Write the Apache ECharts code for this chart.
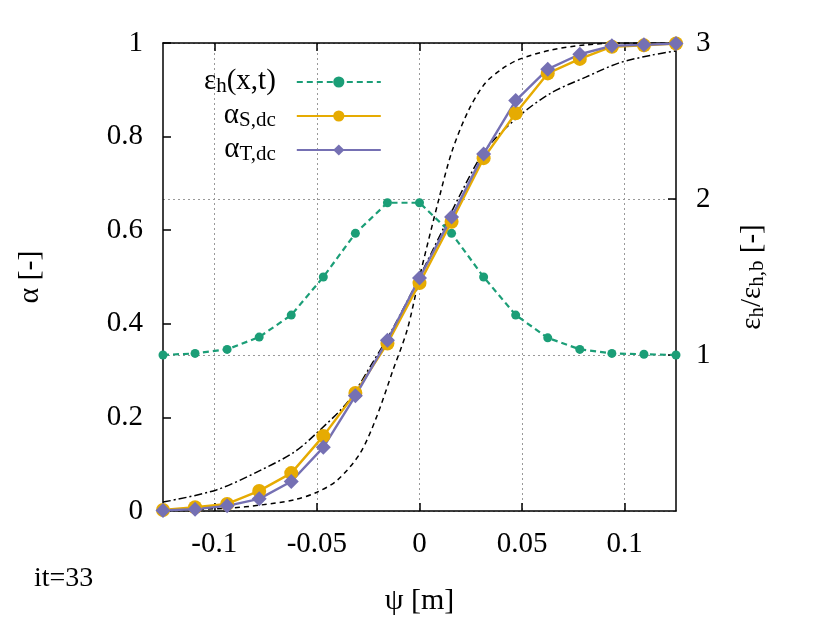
<!DOCTYPE html>
<html>
<head>
<meta charset="utf-8">
<script src="https://cdn.jsdelivr.net/npm/echarts@6/dist/echarts.min.js"></script>
<style>html,body{margin:0;padding:0;background:#fff}#c{width:830px;height:623px}</style>
</head>
<body>
<div id="c"></div>
<script>
// ---- data ----
const psi = [-0.125, -0.109375, -0.09375, -0.078125, -0.0625, -0.046875, -0.03125, -0.015625, 0,
             0.015625, 0.03125, 0.046875, 0.0625, 0.078125, 0.09375, 0.109375, 0.125];
const epsRatio = [1.0, 1.01, 1.036, 1.115, 1.256, 1.50, 1.78, 1.976, 1.976, 1.78, 1.50, 1.256, 1.11, 1.036, 1.01, 1.005, 1.0];
const alphaS = [0.002, 0.008, 0.015, 0.043, 0.081, 0.160, 0.252, 0.358, 0.487, 0.618, 0.754, 0.850, 0.935, 0.966, 0.992, 0.995, 0.999];
const alphaT = [0.001, 0.004, 0.011, 0.026, 0.063, 0.136, 0.246, 0.365, 0.498, 0.628, 0.763, 0.877, 0.944, 0.976, 0.994, 0.996, 0.999];
const dashX = [-0.125, -0.093, -0.077, -0.061, -0.050, -0.040, -0.029, -0.021, -0.013, -0.006, 0, 0.0097, 0.016, 0.024, 0.032, 0.040, 0.048, 0.064, 0.081, 0.097, 0.125];
const dashY = [0.002, 0.006, 0.013, 0.024, 0.040, 0.066, 0.123, 0.20, 0.30, 0.387, 0.5, 0.671, 0.771, 0.857, 0.914, 0.944, 0.964, 0.985, 0.996, 1.0, 1.0];
const dotX = [-0.125, -0.099, -0.077, -0.061, -0.050, -0.035, -0.023, -0.013, 0, 0.021, 0.032, 0.048, 0.064, 0.081, 0.097, 0.113, 0.125];
const dotY = [0.019, 0.045, 0.088, 0.126, 0.167, 0.233, 0.316, 0.39, 0.5, 0.686, 0.771, 0.842, 0.893, 0.927, 0.957, 0.974, 0.983];
const xTicks = [-0.1, -0.05, 0, 0.05, 0.1];
const names = ['eps', 'aS', 'aT'];

const FONT = '"Liberation Serif", "Times New Roman", serif';
const zip = (a, b) => a.map((v, i) => [v, b[i]]);
const legendText = {
  eps: '{m|ε}{s|h}{m|(x,t)}',
  aS: '{m|α}{s|S,dc}',
  aT: '{m|α}{s|T,dc}'
};
const rich = {
  m: {fontFamily: FONT, fontSize: 29, lineHeight: 30, verticalAlign: 'top', color: '#000'},
  s: {fontFamily: FONT, fontSize: 21, lineHeight: 20, padding: [20, 0, 0, 0], verticalAlign: 'bottom', color: '#000'}
};

const chart = echarts.init(document.getElementById('c'), null, {renderer: 'canvas'});
chart.setOption({
  animation: false,
  backgroundColor: '#fff',
  grid: {left: 163, right: 154, top: 43, bottom: 112, containLabel: false},
  legend: {
    data: names,
    orient: 'vertical',
    left: 204, top: 56,
    align: 'right',
    padding: 0,
    itemWidth: 84, itemHeight: 14, itemGap: -7,
    formatter: n => legendText[n],
    textStyle: {rich: rich, fontFamily: FONT, fontSize: 29, padding: [0, 16, 0, 0]}
  },
  xAxis: [{
    type: 'value', min: -0.125, max: 0.125, position: 'bottom',
    name: 'ψ [m]', nameLocation: 'middle', nameGap: 75,
    nameTextStyle: {fontFamily: FONT, fontSize: 30, color: '#000'},
    axisLine: {show: true, onZero: false, lineStyle: {color: '#000', width: 1.5}},
    axisTick: {show: true, inside: true, length: 8, customValues: xTicks, lineStyle: {color: '#000', width: 1.5}},
    axisLabel: {customValues: xTicks, margin: 19, fontFamily: FONT, fontSize: 29, color: '#000'},
    splitLine: {show: true, lineStyle: {color: '#999', type: [2, 3], width: 1}}
  }, {
    type: 'value', min: -0.125, max: 0.125, position: 'top',
    axisLine: {show: true, onZero: false, lineStyle: {color: '#000', width: 1.5}},
    axisTick: {show: true, inside: true, length: 8, customValues: xTicks, lineStyle: {color: '#000', width: 1.5}},
    axisLabel: {show: false},
    splitLine: {show: false}
  }],
  yAxis: [{
    type: 'value', min: 0, max: 1, interval: 0.2, position: 'left',
    name: 'α [-]', nameLocation: 'middle', nameGap: 118, nameRotate: 90,
    nameTextStyle: {fontFamily: FONT, fontSize: 30, color: '#000'},
    axisLine: {show: true, onZero: false, lineStyle: {color: '#000', width: 1.5}},
    axisTick: {show: true, inside: true, length: 8, lineStyle: {color: '#000', width: 1.5}},
    axisLabel: {margin: 20, fontFamily: FONT, fontSize: 29, color: '#000'},
    splitLine: {show: false}
  }, {
    type: 'value', min: 0, max: 3, interval: 1, position: 'right',
    name: '{m|ε}{s|h}{m|/ε}{s|h,b}{m| [-]}', nameLocation: 'middle', nameGap: 62, nameRotate: 90,
    nameTextStyle: {fontFamily: FONT, fontSize: 29, color: '#000', rich: rich},
    axisLine: {show: true, onZero: false, lineStyle: {color: '#000', width: 1.5}},
    axisTick: {show: true, inside: true, length: 8, lineStyle: {color: '#000', width: 1.5}},
    axisLabel: {margin: 20, fontFamily: FONT, fontSize: 29, color: '#000', showMinLabel: false},
    splitLine: {show: true, lineStyle: {color: '#999', type: [2, 3], width: 1}}
  }],
  series: [{
    name: 'dashed', type: 'line', data: zip(dashX, dashY), smooth: 0.3,
    symbol: 'none', lineStyle: {color: '#000', width: 1.5, type: [5, 4]}
  }, {
    name: 'dashdot', type: 'line', data: zip(dotX, dotY), smooth: 0.3,
    symbol: 'none', lineStyle: {color: '#000', width: 1.5, type: [8, 3, 2, 3]}
  }, {
    name: 'eps', type: 'line', yAxisIndex: 1, data: zip(psi, epsRatio),
    symbol: 'circle', symbolSize: 9,
    lineStyle: {color: '#1b9e77', width: 2.2, type: [6, 4]},
    itemStyle: {color: '#1b9e77'}
  }, {
    name: 'aS', type: 'line', data: zip(psi, alphaS),
    symbol: 'circle', symbolSize: 14,
    lineStyle: {color: '#e6ab02', width: 2.4},
    itemStyle: {color: '#e6ab02'}
  }, {
    name: 'aT', type: 'line', data: zip(psi, alphaT),
    symbol: 'diamond', symbolSize: 15,
    lineStyle: {color: '#7570b3', width: 2.4},
    itemStyle: {color: '#7570b3'}
  }],
  graphic: [{
    type: 'text', left: 34, top: 565,
    style: {text: 'it=33', fontFamily: FONT, fontSize: 28, fill: '#000'}
  }]
});
</script>
</body>
</html>
